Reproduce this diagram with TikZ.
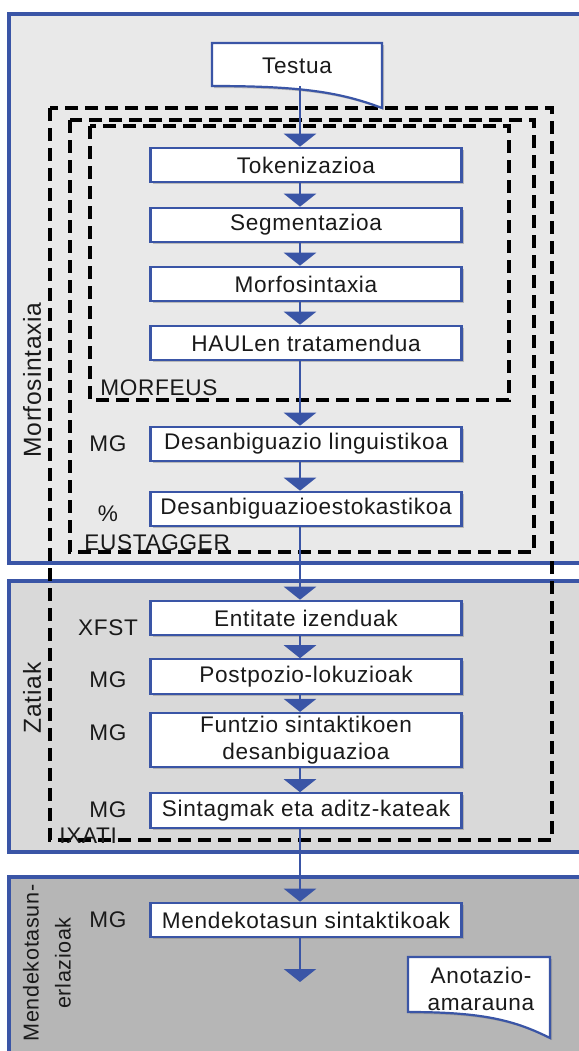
\documentclass[tikz,border=0pt]{standalone}
\usepackage{fontspec}
\setmainfont{Liberation Sans}[LetterSpace=3]
\usetikzlibrary{arrows.meta,calc,shadows}

\definecolor{panelblue}{HTML}{3A55A6}
\definecolor{panelA}{HTML}{E9E9E9}
\definecolor{panelB}{HTML}{D9D9D9}
\definecolor{panelC}{HTML}{B6B6B6}
\definecolor{txt}{HTML}{1A1A1A}

\tikzset{
  panel/.style={draw=panelblue,line width=2pt},
  frame/.style={draw=black,line width=1.6pt,dash pattern=on 6.5pt off 3.5pt},
  framelabel/.style={anchor=base west,inner sep=0pt},
  grouplabel/.style={rotate=90,font=\fontsize{12.3}{14}\selectfont},
  toollabel/.style={inner sep=0pt},
  stagebox/.style={draw=panelblue,line width=1.1pt,fill=white,minimum width=155.5pt,
    minimum height=17.2pt,inner sep=1pt,align=center,
    drop shadow={shadow xshift=1pt,shadow yshift=-1pt,opacity=.45}},
  docline/.style={draw=panelblue,line width=1.1pt,fill=white,
    drop shadow={shadow xshift=1pt,shadow yshift=-1pt,opacity=.45}},
  flow/.style={draw=panelblue,line width=1.4pt,-{Triangle[width=16pt,length=6.5pt]}}
}

\begin{document}
\begin{tikzpicture}[x=0.5pt,y=-0.5pt,font=\fontsize{11.3}{13.5}\selectfont,text=txt]
\useasboundingbox (0,0) rectangle (579,1051);
\clip (0,0) rectangle (579,1051);
\fill[white] (0,0) rectangle (579,1051);

% panels
\draw[panel,fill=panelA] (9,14) rectangle (600,563);
\draw[panel,fill=panelB] (9,581) rectangle (600,852);
\draw[panel,fill=panelC] (9,877) rectangle (600,1070);

\node[grouplabel] (lmorf) at (32,380) {Morfosintaxia};
\node[grouplabel] (lzat) at (32,698) {Zatiak};
\node[grouplabel,font=\fontsize{10.8}{16}\selectfont,align=center] (lmend) at (47,963) {Mendekotasun-\\erlazioak};

% tool frames
\draw[frame] (50,108) rectangle (552,840);
\draw[frame] (70,120) rectangle (534,552);
\draw[frame] (90,126) rectangle (509,400);
\node[framelabel] (fmorfeus) at (100,395) {MORFEUS};
\node[framelabel] (feustagger) at (84,550) {EUSTAGGER};
\node[framelabel] (fixati) at (59,843) {IXATI};

% input and output documents
\draw[docline] (212,43) -- (382,43) -- (382,108) .. controls (340,92) and (300,86) .. (212,86) -- cycle;
\node[minimum height=20pt,inner sep=0pt] (testua) at (297,66) {Testua};
\draw[docline] (408,957) -- (550,957) -- (550,1038) .. controls (514,1020) and (482,1012) .. (408,1012) -- cycle;
\node[align=center,inner sep=0pt] (anot) at (481,989) {Anotazio-\\amarauna};

% stages
\node[stagebox] (tok) at (306,165) {Tokenizazioa};
\node[stagebox] (seg) at (306,225) {Segmentazioa};
\node[stagebox] (morf) at (306,284) {Morfosintaxia};
\node[stagebox] (haul) at (306,343) {HAULen tratamendua};
\node[stagebox] (dling) at (306,444) {Desanbiguazio linguistikoa};
\node[stagebox] (dstok) at (306,509) {Desanbiguazioestokastikoa};
\node[stagebox] (ent) at (306,618) {Entitate izenduak};
\node[stagebox] (post) at (306,676.5) {Postpozio-lokuzioak};
\node[stagebox,minimum height=27pt] (funtz) at (306,740) {Funtzio sintaktikoen\\desanbiguazioa};
\node[stagebox] (sint) at (306,810.5) {Sintagmak eta aditz-kateak};
\node[stagebox] (mend) at (306,920) {Mendekotasun sintaktikoak};

% tools
\node[toollabel] (tmg1) at (108,444) {MG};
\node[toollabel] (tpct) at (108,514) {\%};
\node[toollabel] (txfst) at (108,628) {XFST};
\node[toollabel] (tmg2) at (108,680) {MG};
\node[toollabel] (tmg3) at (108,733) {MG};
\node[toollabel] (tmg4) at (108,810) {MG};
\node[toollabel] (tmg5) at (108,920) {MG};

% flow
\coordinate (col) at (300,0);
\coordinate (out) at (300,982);
\draw[flow] (testua.south -| col) -- (tok.north -| col);
\draw[flow] (tok.south -| col) -- (seg.north -| col);
\draw[flow] (seg.south -| col) -- (morf.north -| col);
\draw[flow] (morf.south -| col) -- (haul.north -| col);
\draw[flow] (haul.south -| col) -- (dling.north -| col);
\draw[flow] (dling.south -| col) -- (dstok.north -| col);
\draw[flow] (dstok.south -| col) -- (ent.north -| col);
\draw[flow] (ent.south -| col) -- (post.north -| col);
\draw[flow] (post.south -| col) -- (funtz.north -| col);
\draw[flow] (funtz.south -| col) -- (sint.north -| col);
\draw[flow] (sint.south -| col) -- (mend.north -| col);
\draw[flow] (mend.south -| col) -- (out);
\end{tikzpicture}
\end{document}
